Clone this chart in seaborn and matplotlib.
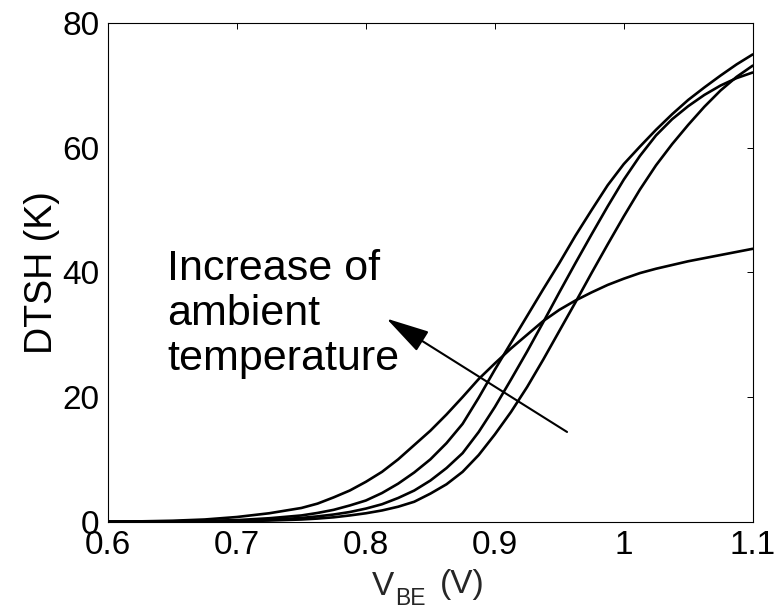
"""DTSH vs V_BE for several ambient temperatures"""
import matplotlib
matplotlib.use("Agg")
import matplotlib.pyplot as plt
import pandas as pd
import seaborn as sns

# V_BE grid (V)
vbe = [0.600, 0.625, 0.650, 0.675, 0.700, 0.725, 0.750, 0.7625, 0.775, 0.7875,
       0.800, 0.8125, 0.825, 0.8375, 0.850, 0.8625, 0.875, 0.8875, 0.900, 0.9125,
       0.925, 0.9375, 0.950, 0.9625, 0.975, 0.9875, 1.000, 1.0125, 1.025, 1.0375,
       1.050, 1.0625, 1.075, 1.0875, 1.100]

# DTSH (K), hottest ambient first
dtsh_a = [0.0, 0.05, 0.15, 0.35, 0.75, 1.35, 2.2, 2.9, 3.9, 5.0,
          6.4, 8.0, 10.0, 12.3, 14.6, 17.2, 20.0, 22.9, 25.4, 27.8,
          30.0, 32.2, 34.0, 35.5, 36.8, 38.0, 39.0, 39.9, 40.6, 41.2,
          41.8, 42.3, 42.8, 43.3, 43.8]
dtsh_b = [0.0, 0.0, 0.05, 0.12, 0.25, 0.55, 1.0, 1.4, 1.9, 2.6,
          3.4, 4.6, 6.1, 7.9, 10.0, 12.6, 15.7, 19.9, 24.4, 28.7,
          33.0, 37.3, 41.5, 45.9, 50.0, 54.0, 57.4, 60.2, 62.9, 65.4,
          67.7, 69.7, 71.6, 73.4, 75.0]
dtsh_c = [0.0, 0.0, 0.02, 0.06, 0.15, 0.3, 0.6, 0.85, 1.15, 1.55,
          2.1, 2.8, 3.8, 5.0, 6.6, 8.6, 11.0, 14.4, 18.4, 22.8,
          27.3, 32.0, 36.8, 41.5, 46.1, 50.6, 54.9, 58.7, 62.0, 64.6,
          66.7, 68.5, 70.0, 71.2, 72.1]
dtsh_d = [0.0, 0.0, 0.01, 0.03, 0.08, 0.18, 0.35, 0.5, 0.7, 1.0,
          1.35, 1.8, 2.4, 3.2, 4.5, 6.0, 8.0, 10.7, 14.0, 17.6,
          21.6, 26.0, 30.6, 35.2, 39.9, 44.5, 49.0, 53.3, 57.2, 60.6,
          63.7, 66.6, 69.2, 71.4, 73.2]

curves = {"A": dtsh_a, "B": dtsh_b, "C": dtsh_c, "D": dtsh_d}

sns.set_theme(style="white")
plt.rcParams["font.family"] = ["Liberation Sans", "DejaVu Sans"]

W, H = 780, 611
fig = plt.figure(figsize=(W / 100, H / 100), dpi=100)
ax = fig.add_axes([0.1385, 0.1462, 0.8265, 0.8157])

for name, vals in curves.items():
    df = pd.DataFrame({"vbe": vbe, "dtsh": vals})
    sns.lineplot(data=df, x="vbe", y="dtsh", color="black", linewidth=1.9,
                 estimator=None, sort=False, ax=ax)

ax.set_xlim(0.6, 1.1)
ax.set_ylim(0, 80)
ax.set_xticks([0.6, 0.7, 0.8, 0.9, 1.0, 1.1])
ax.set_xticklabels(["0.6", "0.7", "0.8", "0.9", "1", "1.1"])
ax.set_yticks([0, 20, 40, 60, 80])
ax.tick_params(direction="in", top=True, right=True, length=4.3, width=0.7,
               labelsize=24, pad=6, color="black", labelcolor="black")
for sp in ax.spines.values():
    sp.set_color("black")
    sp.set_linewidth(0.8)

ax.set_xlabel("")
ax.set_ylabel("DTSH (K)", fontsize=27, labelpad=2, color="black")

# x label: V with a dropped subscript BE, then (V)
fig.text(372 / W, 1 - 595 / H, "V", fontsize=24, va="baseline", ha="left")
fig.text(395 / W, 1 - 605 / H, "BE", fontsize=16.5, va="baseline", ha="left")
fig.text(440 / W, 1 - 593 / H, "(V)", fontsize=24, va="baseline", ha="left")

ax.text(0.646, 43.8, "Increase of\nambient\ntemperature", fontsize=31,
        va="top", ha="left", linespacing=1.17, color="black")
ax.annotate("", xy=(0.816, 32.6), xytext=(0.956, 14.4),
            arrowprops=dict(arrowstyle="-|>,head_length=1.35,head_width=0.36",
                            mutation_scale=20, lw=1.5, color="black",
                            shrinkA=0, shrinkB=0))

fig.savefig("out.png", dpi=100)
